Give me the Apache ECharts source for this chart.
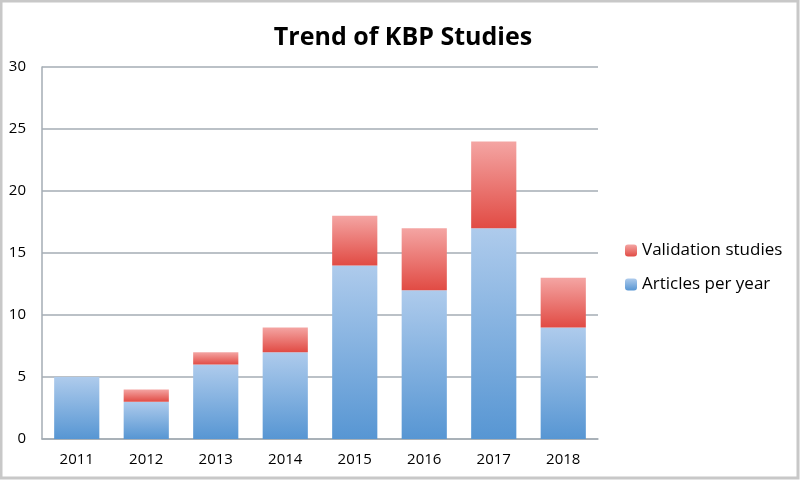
<!DOCTYPE html>
<html><head><meta charset="utf-8">
<script src="https://cdn.jsdelivr.net/npm/echarts@6/dist/echarts.min.js"></script>
<style>html,body{margin:0;padding:0;background:#fff}#c{width:800px;height:480px}</style>
</head><body><div id="c"></div>
<script>
const categories = ['2011','2012','2013','2014','2015','2016','2017','2018'];
const articlesPerYear = [5,3,6,7,14,12,17,9];
const validationStudies = [0,1,1,2,4,5,7,4];
const yTicks = [0,5,10,15,20,25,30];

const chart = echarts.init(document.getElementById('c'));
const blueGrad = new echarts.graphic.LinearGradient(0,0,0,1,[{offset:0,color:'#aecbec'},{offset:1,color:'#5796d3'}]);
const redGrad = new echarts.graphic.LinearGradient(0,0,0,1,[{offset:0,color:'#f4a5a3'},{offset:1,color:'#e14b44'}]);
chart.setOption({
  animation:false,
  backgroundColor:'#fff',
  graphic:[{type:'rect',shape:{x:1,y:1,width:797,height:477},style:{fill:'none',stroke:'#c8c8c8',lineWidth:3}}],
  title:{text:'Trend of KBP Studies',left:398,textAlign:'center',top:20,
    textStyle:{fontFamily:'Open Sans',fontWeight:'bold',fontSize:25,color:'#000'}},
  legend:{orient:'vertical',left:620,top:237,itemWidth:12,itemHeight:12,itemGap:17,
    data:['Validation studies','Articles per year'],
    textStyle:{fontFamily:'Open Sans',fontSize:17,color:'#000'}},
  grid:{left:42,right:202,top:67,bottom:41},
  xAxis:{type:'category',data:categories,
    axisLine:{lineStyle:{color:'#a4acb4',width:1.5}},axisTick:{show:false},
    axisLabel:{color:'#000',fontFamily:'Open Sans',fontSize:15,margin:13}},
  yAxis:{type:'value',min:0,max:30,interval:5,
    axisLine:{show:true,lineStyle:{color:'#a4acb4',width:1.5}},axisTick:{show:false},
    splitLine:{lineStyle:{color:'#a4acb4',width:1.5}},
    axisLabel:{color:'#000',fontFamily:'Open Sans',fontSize:15,margin:16,
      formatter:v=>yTicks.includes(v)?String(v):''}},
  series:[
    {name:'Articles per year',type:'bar',stack:'s',data:articlesPerYear,barWidth:'65%',
      itemStyle:{color:blueGrad}},
    {name:'Validation studies',type:'bar',stack:'s',data:validationStudies,barWidth:'65%',
      itemStyle:{color:redGrad}}
  ]
});
</script></body></html>
